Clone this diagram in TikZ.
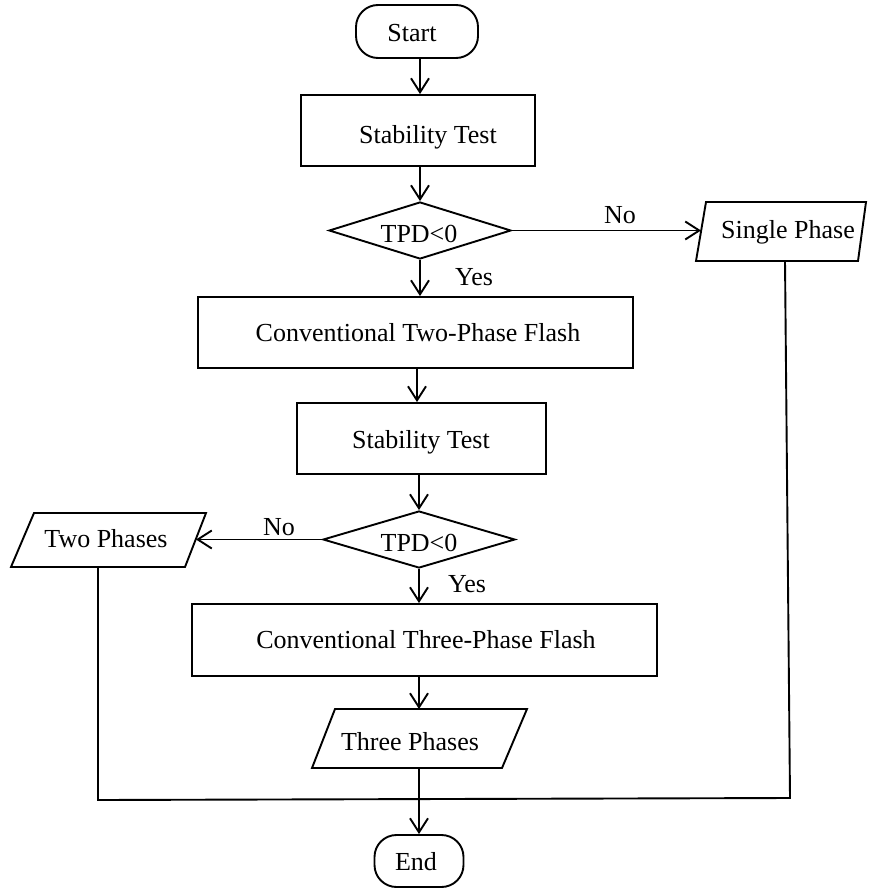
\documentclass[tikz,border=0pt]{standalone}
\usepackage{fontspec}
\setmainfont{Liberation Serif}
\usetikzlibrary{arrows.meta,shapes.geometric}
\begin{document}
\begin{tikzpicture}[x=1pt,y=-1pt,line width=1.9pt,
  box/.style={draw,rectangle,inner sep=0pt},
  pill/.style={draw,rectangle,rounded corners=22pt,inner sep=0pt},
  dia/.style={draw,diamond,inner sep=0pt},
  lbl/.style={anchor=base,inner sep=0pt,font=\fontsize{26}{30}\selectfont},
  arr/.style={-{Straight Barb[length=14pt,width=18pt]}}]
\useasboundingbox (0,0) rectangle (868,888);
\coordinate (c420) at (420,0);
\coordinate (c417) at (417,0);
% boxes
\node[pill,minimum width=122pt,minimum height=53pt] (start) at (417,31.5) {};
\node[lbl] (startt) at (412,42) {Start};
\node[box,minimum width=234pt,minimum height=71pt] (st1) at (418,130.5) {};
\node[lbl] (st1t) at (428,143) {Stability Test};
\node[dia,minimum width=182pt,minimum height=57pt] (d1) at (420,230.5) {};
\node[lbl] (d1t) at (419,242) {TPD<0};
\node[box,minimum width=435pt,minimum height=71pt] (ctpf) at (415.5,332.5) {};
\node[lbl] (ctpft) at (418,341) {Conventional Two-Phase Flash};
\node[box,minimum width=249pt,minimum height=71pt] (st2) at (421.5,438.5) {};
\node[lbl] (st2t) at (421,448) {Stability Test};
\node[dia,minimum width=192pt,minimum height=57pt] (d2) at (419,539.5) {};
\node[lbl] (d2t) at (419,551) {TPD<0};
\node[box,minimum width=465pt,minimum height=72pt] (cthf) at (424.5,640) {};
\node[lbl] (ctht) at (426,648) {Conventional Three-Phase Flash};
\node[pill,minimum width=89pt,minimum height=52pt] (end) at (419,861) {};
\node[lbl] (endt) at (416,870) {End};
% parallelograms
\draw (706,202) -- (866,202) -- (858,261) -- (696,261) -- cycle;
\node[lbl] (spt) at (788,238) {Single Phase};
\coordinate (spin) at (701,230.5);
\coordinate (spbot) at (785,261);
\draw (34,513) -- (206,513) -- (185,567) -- (11,567) -- cycle;
\node[lbl] (twt) at (106,547) {Two Phases};
\coordinate (twin) at (196,539.5);
\coordinate (twbot) at (98,567);
\draw (335,709) -- (527,709) -- (502,768) -- (312,768) -- cycle;
\node[lbl] (tpt) at (410,750) {Three Phases};
\coordinate (tptop) at (419,709);
\coordinate (tpbot) at (419,768);
\coordinate (cr) at (790,798);
\coordinate (cl) at (98,800);
% connectors
\draw[arr] (start.south -| c420) -- (st1.north -| c420);
\draw[arr] (st1.south -| d1.north) -- (d1.north);
\draw[arr] (d1.south) -- (ctpf.north -| d1.south);
\draw[arr] (d1.east) -- (spin);
\draw[arr] (ctpf.south -| c417) -- (st2.north -| c417);
\draw[arr] (st2.south -| d2.north) -- (d2.north);
\draw[arr] (d2.west) -- (twin);
\draw[arr] (d2.south) -- (cthf.north -| d2.south);
\draw[arr] (cthf.south -| tptop) -- (tptop);
\draw[arr] (tpbot) -- (end.north);
\draw (spbot) -- (cr) -- (cl) -- (twbot);
% labels
\node[lbl] (no1) at (620,223) {No};
\node[lbl] (yes1) at (474,285) {Yes};
\node[lbl] (no2) at (279,535) {No};
\node[lbl] (yes2) at (467,592) {Yes};
\end{tikzpicture}
\end{document}
